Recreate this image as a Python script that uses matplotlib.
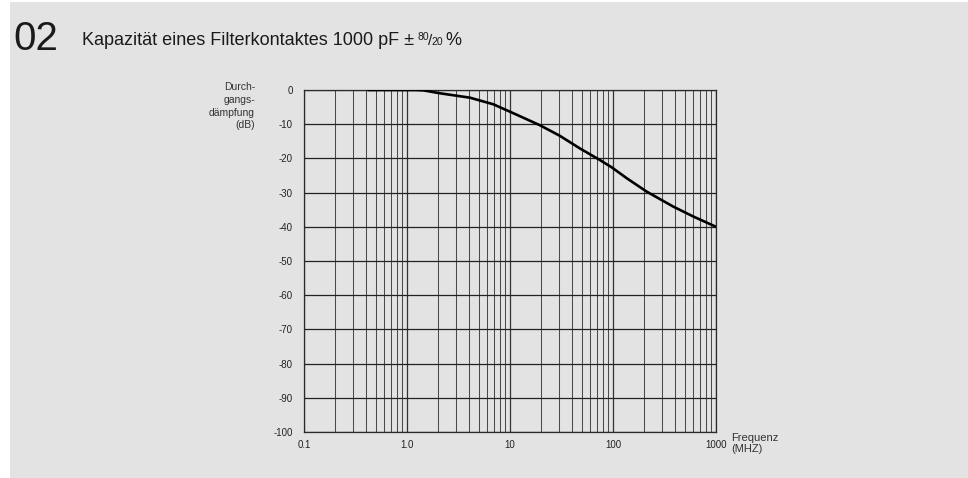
import numpy as np
import matplotlib
matplotlib.use('Agg')
import matplotlib.pyplot as plt
from matplotlib.patches import Rectangle
from matplotlib.ticker import FixedLocator, NullFormatter

plt.rcParams['font.family'] = ['Liberation Sans', 'DejaVu Sans']

# curve (MHz, dB)
freq = [0.42, 0.8, 1.2, 1.44, 2.09, 4.09, 6.89, 10.0, 19.5, 30.5, 47.8, 74.8, 97,
        136, 212, 385, 603, 1000]
damp = [0.0, 0.0, 0.0, -0.1, -0.96, -2.25, -4.18, -6.35, -10.3, -13.4, -17.1, -20.5,
        -22.6, -25.8, -29.7, -34.1, -37.0, -40.0]

xticks = [0.1, 1, 10, 100, 1000]
xlabels = ['0.1', '1.0', '10', '100', '1000']
yticks = list(range(0, -101, -10))

bg = '#e2e3e2'
fig = plt.figure(figsize=(9.68, 4.78), dpi=100)
fig.patch.set_facecolor('white')
fig.patches.append(Rectangle((10/968, 0), 1 - 10/968, 476/478, transform=fig.transFigure,
                             facecolor=bg, edgecolor='none', zorder=-10))

ax = fig.add_axes([304/968, 46/478, 412/968, 342/478])
ax.set_facecolor(bg)
ax.set_xscale('log')
ax.set_xlim(0.1, 1000)
ax.set_ylim(-100, 0)

minors = [m * 10.0**e for e in range(-1, 3) for m in range(2, 10)]
for x in minors:
    ax.axvline(x, color='#4a4a4a', lw=0.75, zorder=1)
for x in xticks:
    ax.axvline(x, color='#333333', lw=0.9, zorder=1)
for y in yticks:
    ax.axhline(y, color='#222222', lw=0.9, zorder=1)

ax.plot(freq, damp, color='black', lw=1.9, zorder=3, solid_capstyle='round',
        solid_joinstyle='round')

ax.xaxis.set_major_locator(FixedLocator(xticks))
ax.xaxis.set_minor_locator(FixedLocator(minors))
ax.xaxis.set_minor_formatter(NullFormatter())
ax.set_xticklabels(xlabels)
ax.set_yticks(yticks)
ax.set_yticklabels([str(v) for v in yticks])
ax.tick_params(which='both', length=0, labelsize=7, colors='#222222')
ax.tick_params(axis='x', pad=6)
ax.tick_params(axis='y', pad=8)
for s in ax.spines.values():
    s.set_color('#2a2a2a')
    s.set_linewidth(0.9)

fig.text(255/968, 1 - 82/478, 'Durch-\ngangs-\ndämpfung\n(dB)', ha='right', va='top',
         fontsize=7.5, linespacing=1.35, color='#333333')
fig.text(731/968, 1 - 433/478, 'Frequenz\n(MHZ)', ha='left', va='top',
         fontsize=8, linespacing=1.1, color='#333333')

# heading
fig.text(13/968, 1 - 50/478, '02', fontsize=29, color='#1a1a1a', va='baseline')
base = 1 - 45/478
t1 = fig.text(82/968, base, 'Kapazität eines Filterkontaktes 1000 pF ±', fontsize=13,
              color='#1a1a1a', va='baseline')
r = fig.canvas.get_renderer()
x = t1.get_window_extent(r).x1 / 968 + 3/968
t2 = fig.text(x, base + 5/478, '80', fontsize=7.5, color='#1a1a1a', va='baseline')
x = t2.get_window_extent(r).x1 / 968 - 1/968
t3 = fig.text(x, base, '/', fontsize=11, color='#1a1a1a', va='baseline')
x = t3.get_window_extent(r).x1 / 968 - 1/968
t4 = fig.text(x, base, '20', fontsize=7.5, color='#1a1a1a', va='baseline')
x = t4.get_window_extent(r).x1 / 968 + 3/968
fig.text(x, base, '%', fontsize=13, color='#1a1a1a', va='baseline')

fig.savefig('out.png', dpi=100, facecolor=fig.get_facecolor())
